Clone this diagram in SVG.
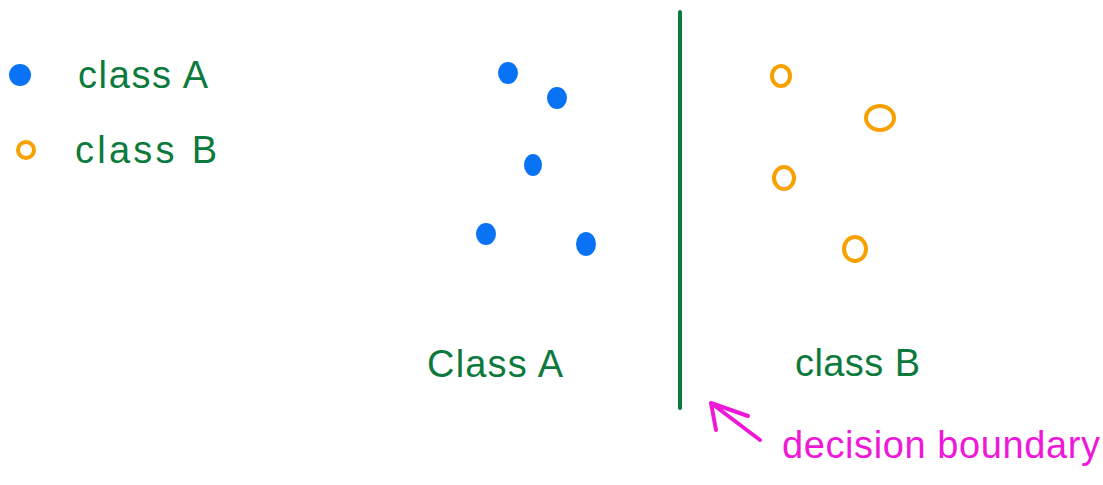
<svg xmlns="http://www.w3.org/2000/svg" width="1103" height="485" viewBox="0 0 1103 485">
<style>
.lbl{font-family:"Liberation Sans",Arial,sans-serif;font-size:38px;fill:#0c7a3c}
.dec{font-family:"Liberation Sans",Arial,sans-serif;font-size:38px;fill:#f018d8}
.a{fill:#0a72f5}
.b{fill:none;stroke:#f7a100;stroke-width:4}
.ln{stroke:#0c7a3c;stroke-width:4;stroke-linecap:round;fill:none}
.ar{stroke:#f018d8;stroke-width:4;stroke-linecap:round;stroke-linejoin:round;fill:none}
</style>
<rect width="1103" height="485" fill="#ffffff"/>
<g id="legend">
<circle cx="20" cy="75" r="11" class="a"/>
<text class="lbl" x="78" y="88" textLength="130" lengthAdjust="spacing">class A</text>
<circle cx="26" cy="150" r="8" class="b"/>
<text class="lbl" x="75" y="163" textLength="142" lengthAdjust="spacing">class B</text>
</g>
<g id="classA-points">
<ellipse cx="508" cy="73" rx="10" ry="11" class="a"/>
<ellipse cx="557" cy="98" rx="10" ry="11" class="a"/>
<ellipse cx="533" cy="165" rx="9" ry="11" class="a"/>
<ellipse cx="486" cy="234" rx="10" ry="11" class="a"/>
<ellipse cx="586" cy="244" rx="10" ry="12" class="a"/>
</g>
<g id="classB-points">
<ellipse cx="781" cy="76" rx="9" ry="10" class="b"/>
<ellipse cx="880" cy="118" rx="14" ry="12" class="b"/>
<ellipse cx="784" cy="178" rx="10" ry="11" class="b"/>
<ellipse cx="855" cy="249" rx="11" ry="12" class="b"/>
</g>
<g id="boundary">
<line x1="680" y1="12" x2="680" y2="408" class="ln"/>
</g>
<g id="labels">
<text class="lbl" x="427" y="377" textLength="136" lengthAdjust="spacing">Class A</text>
<text class="lbl" x="795" y="376" textLength="125" lengthAdjust="spacing">class B</text>
</g>
<g id="connectors">
<path d="M760 440 L711 403 M711 403 L716 430 M711 403 L748 416" class="ar"/>
</g>
<g id="annotation">
<text class="dec" x="782" y="458" textLength="318" lengthAdjust="spacing">decision boundary</text>
</g>
</svg>
